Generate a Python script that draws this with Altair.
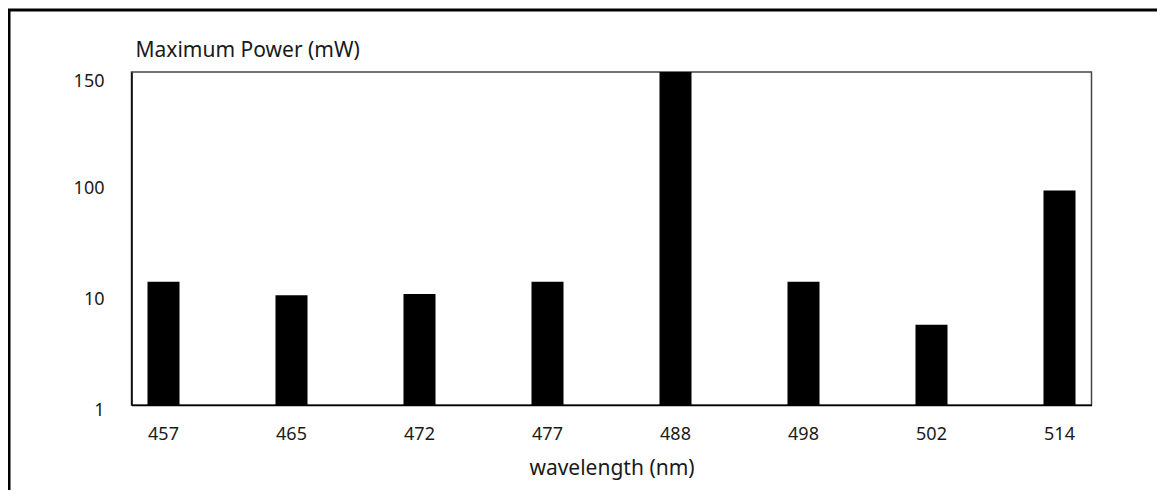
import altair as alt
import pandas as pd

wavelengths = ["457", "465", "472", "477", "488", "498", "502", "514"]
max_power = [20, 9.9, 10, 20, 150, 20, 7.5, 94]
y_ticks = [1, 10, 100, 150]

W, H = 960, 333

df = pd.DataFrame({"wavelength": wavelengths, "power": max_power})

bars = alt.Chart(df).mark_bar(color="black").encode(
    x=alt.X(
        "wavelength:N",
        sort=wavelengths,
        scale=alt.Scale(paddingInner=0.75, paddingOuter=0.125),
        axis=alt.Axis(
            title="wavelength (nm)",
            labelAngle=0,
            ticks=False,
            labelPadding=20,
            titlePadding=14,
            labelFontSize=18,
            titleFontSize=21,
            titleFontWeight="normal",
            domainColor="black",
            domainWidth=1.5,
        ),
    ),
    y=alt.Y(
        "power:Q",
        scale=alt.Scale(domain=y_ticks, range=[H, 2 * H / 3, H / 3, 0], clamp=True),
        axis=alt.Axis(
            title="Maximum Power (mW)",
            values=y_ticks,
            ticks=False,
            grid=False,
            labelPadding=27.5,
            labelFontSize=18,
            labelBaseline="middle",
            labelOffset={"condition": {"test": "datum.value == 150", "value": 9}, "value": 5},
            titleAngle=0,
            titleAlign="left",
            titleBaseline="alphabetic",
            titleX=3.5,
            titleY=-15.5,
            titleFontSize=21,
            titleFontWeight="normal",
            domainColor="black",
            domainWidth=1.5,
        ),
    ),
    y2=alt.datum(1),
)

frame = alt.Chart(pd.DataFrame({"k": [0]})).mark_rect(
    filled=False, stroke="black", strokeWidth=3
).encode(
    x=alt.value(-122.5),
    x2=alt.value(3000),
    y=alt.value(-62),
    y2=alt.value(3000),
)

chart = (
    alt.layer(frame, bars)
    .properties(
        width=W,
        height=H,
        autosize=alt.AutoSizeParams(type="none"),
        padding={"left": 123.5, "top": 64, "right": 65, "bottom": 85},
    )
    .configure(font="Noto Sans")
    .configure_axis(labelColor="#1a1a1a", titleColor="#1a1a1a", labelFont="Noto Sans", titleFont="Noto Sans")
    .configure_view(stroke="#444444", strokeWidth=1.5)
)

chart.save("out.html", embed_options={"renderer": "svg", "actions": False})
